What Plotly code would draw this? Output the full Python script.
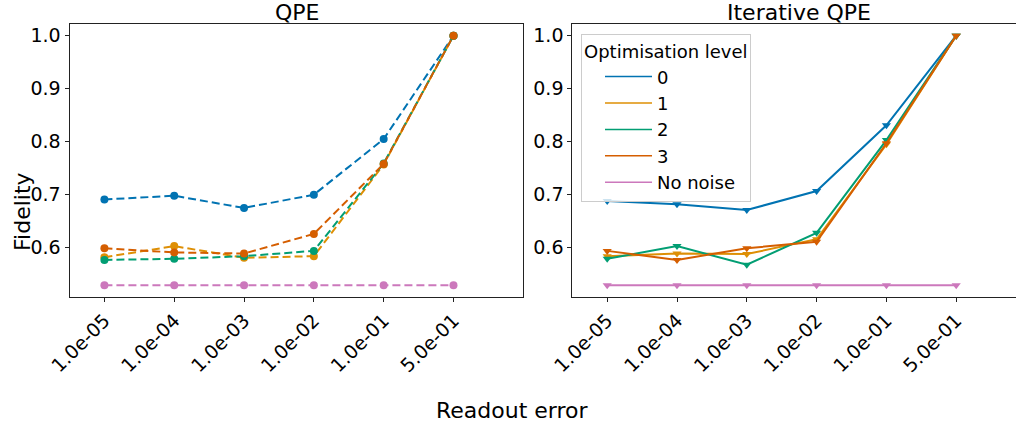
import plotly.graph_objects as go

tick_labels = ["1.0e-05", "1.0e-04", "1.0e-03", "1.0e-02", "1.0e-01", "5.0e-01"]
x_idx = [0, 1, 2, 3, 4, 5]
levels = ["0", "1", "2", "3", "No noise"]
colors = ["#0173B2", "#DE8F05", "#029E73", "#D55E00", "#CC78BC"]

qpe_l0 = [0.691, 0.698, 0.675, 0.700, 0.805, 1.0]
qpe_l1 = [0.582, 0.603, 0.581, 0.584, 0.757, 1.0]
qpe_l2 = [0.577, 0.579, 0.584, 0.594, 0.759, 1.0]
qpe_l3 = [0.599, 0.591, 0.589, 0.626, 0.758, 1.0]
qpe_nonoise = [0.529, 0.529, 0.529, 0.529, 0.529, 0.529]

iqpe_l0 = [0.688, 0.682, 0.671, 0.707, 0.831, 1.0]
iqpe_l1 = [0.584, 0.589, 0.588, 0.616, 0.795, 1.0]
iqpe_l2 = [0.579, 0.603, 0.568, 0.628, 0.803, 1.0]
iqpe_l3 = [0.594, 0.577, 0.599, 0.611, 0.797, 1.0]
iqpe_nonoise = [0.529, 0.529, 0.529, 0.529, 0.529, 0.529]

qpe_series = [qpe_l0, qpe_l1, qpe_l2, qpe_l3, qpe_nonoise]
iqpe_series = [iqpe_l0, iqpe_l1, iqpe_l2, iqpe_l3, iqpe_nonoise]

FONT = "DejaVu Sans"
fig = go.Figure()

for ys, c in zip(qpe_series, colors):
    fig.add_trace(go.Scatter(x=x_idx, y=ys, mode="lines+markers",
                             line=dict(color=c, width=2, dash="8px,4px"),
                             marker=dict(symbol="circle", size=8, color=c),
                             showlegend=False, xaxis="x", yaxis="y"))

for ys, c in zip(iqpe_series, colors):
    fig.add_trace(go.Scatter(x=x_idx, y=ys, mode="lines+markers",
                             line=dict(color=c, width=2),
                             marker=dict(symbol="triangle-down", size=8, color=c),
                             showlegend=False, xaxis="x2", yaxis="y2"))

for name, c in zip(levels, colors):
    fig.add_trace(go.Scatter(x=[None], y=[None], mode="lines", name=name,
                             line=dict(color=c, width=1.5),
                             showlegend=True, xaxis="x2", yaxis="y2"))

W, H = 1016, 427
def px(v):
    return v / W
def py(v):
    return (H - v) / H

axis_common = dict(showgrid=False, zeroline=False, showline=True, linecolor="#222",
                   linewidth=1, ticks="outside", ticklen=4, tickcolor="#222",
                   automargin=False,
                   tickfont=dict(family=FONT, size=19, color="black"))

def label(text, x, y, angle=0):
    return dict(text=text, x=px(x), y=py(y), xref="paper", yref="paper",
                xanchor="center", yanchor="middle", showarrow=False,
                textangle=angle, font=dict(family=FONT, size=22))

fig.update_layout(
    width=W, height=H,
    margin=dict(l=0, r=0, t=0, b=0),
    paper_bgcolor="white", plot_bgcolor="white",
    font=dict(family=FONT, size=18, color="black"),
    xaxis=dict(domain=[px(69.5), px(523.3)], range=[-0.5, 6.0], tickvals=x_idx,
               ticktext=tick_labels, tickangle=-45, mirror=True, anchor="y", **axis_common),
    yaxis=dict(domain=[py(297), py(24)], range=[0.507, 1.022], tickvals=[0.6, 0.7, 0.8, 0.9, 1.0],
               ticktext=["0.6", "0.7", "0.8", "0.9", "1.0"], mirror=True, anchor="x", **axis_common),
    xaxis2=dict(domain=[px(572.3), 1.0], range=[-0.5, -0.5 + (1016 - 572.3) / 69.8], tickvals=x_idx,
                ticktext=tick_labels, tickangle=-45, mirror=True, anchor="y2", **axis_common),
    yaxis2=dict(domain=[py(297), py(24)], range=[0.507, 1.022], tickvals=[0.6, 0.7, 0.8, 0.9, 1.0],
                ticktext=["0.6", "0.7", "0.8", "0.9", "1.0"], mirror=False, anchor="x2", **axis_common),
    legend=dict(x=px(581), y=py(34), xanchor="left", yanchor="top",
                bgcolor="rgba(255,255,255,0.8)", bordercolor="#cccccc", borderwidth=1,
                font=dict(family=FONT, size=18),
                title=dict(text="Optimisation level", font=dict(family=FONT, size=18)),
                itemwidth=47, indentation=18),
    annotations=[
        label("QPE", 296.5, 12),
        label("Iterative QPE", 799, 12),
        label("Readout error", 512, 410),
        label("Fidelity", 22, 212, -90),
    ],
)

fig.write_html("out.html", config={"displayModeBar": False},
               post_script="document.body.style.margin='0';document.body.style.overflow='hidden';")
